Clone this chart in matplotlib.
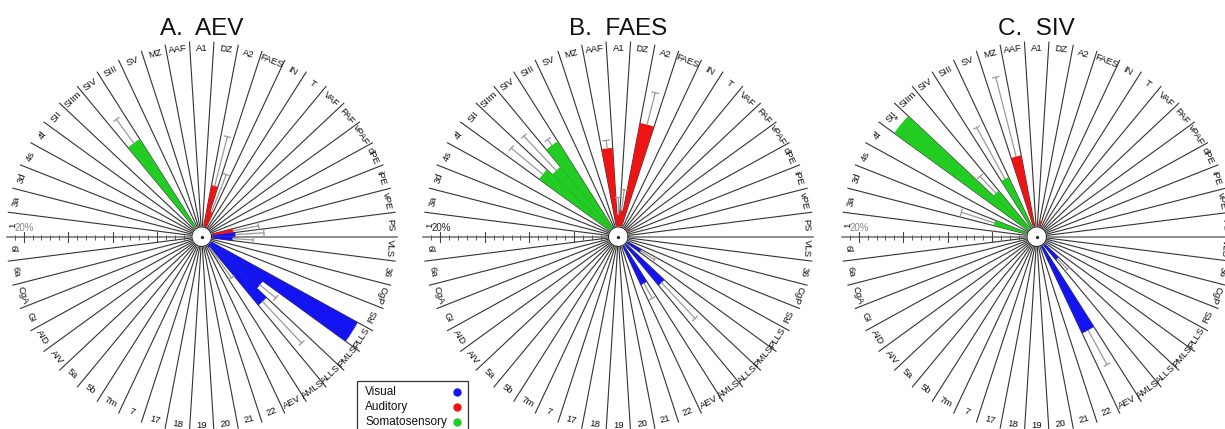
import numpy as np
import matplotlib
matplotlib.use('Agg')
import matplotlib.pyplot as plt
from matplotlib.lines import Line2D
from matplotlib.patches import Rectangle

plt.rcParams['font.family'] = ['Liberation Sans', 'DejaVu Sans']

# ---- data -------------------------------------------------------------
AREAS = ['1', '3a', '3d', '4s', '4f', 'SII', 'SIIm', 'SIV', 'SIII', 'SV',
         'MZ', 'AAF', 'A1', 'DZ', 'A2', 'FAES', 'IN', 'T', 'VAF', 'PAF',
         'vPAF', 'dPE', 'iPE', 'vPE', 'PS', 'VLS', '36', 'CgP', 'RS', 'PLLS',
         'PMLS', 'ALLS', 'AMLS', 'AEV', '22', '21', '20', '19', '18', '17',
         '7', '7m', '5b', '5a', 'AIV', 'AID', 'GI', 'CgA', '6a', '6l']

TITLES = ['A.  AEV', 'B.  FAES', 'C.  SIV']

# panel A (AEV injections)
AEV_AREAS = ['SIV', 'FAES', 'A2', 'vPE', 'PS', 'VLS', 'PLLS', 'PMLS', 'ALLS', 'AMLS']
AEV_VALUES = [13.0, 3.0, 5.9, 3.6, 3.8, 3.5, 20.0, 8.5, 10.0, 1.5]
AEV_SEM = [3.3, 4.5, 5.7, 2.9, 3.2, 2.3, 0.0, 2.3, 6.4, 4.2]
AEV_MOD = ['S', 'A', 'A', 'A', 'V', 'V', 'V', 'V', 'V', 'V']

# panel B (FAES injections)
FAES_AREAS = ['SII', 'SIIm', 'SIV', 'AAF', 'A1', 'DZ', 'A2', 'vPAF', 'PLLS', 'ALLS', 'AEV']
FAES_VALUES = [11.0, 10.2, 12.7, 10.0, 2.5, 3.0, 13.0, 1.5, 3.0, 7.1, 6.0]
FAES_SEM = [4.6, 5.3, 0.8, 0.9, 2.0, 2.3, 3.7, 0.0, 1.8, 5.5, 1.9]
FAES_MOD = ['S', 'S', 'S', 'A', 'A', 'A', 'A', 'A', 'V', 'V', 'V']

# panel C (SIV injections)
SIV_AREAS = ['3d', 'SII', 'SIIm', 'SIII', 'MZ', 'A2', 'ALLS', 'AEV']
SIV_VALUES = [5.0, 19.8, 6.7, 7.4, 9.3, 1.8, 3.4, 12.0]
SIV_SEM = [3.9, 0.0, 2.6, 6.6, 9.2, 0.0, 1.6, 4.4]
SIV_MOD = ['S', 'S', 'S', 'S', 'A', 'A', 'V', 'V']
SIV_SIGNIFICANT = ['SII']

PANELS = [
    (AEV_AREAS, AEV_VALUES, AEV_SEM, AEV_MOD, []),
    (FAES_AREAS, FAES_VALUES, FAES_SEM, FAES_MOD, []),
    (SIV_AREAS, SIV_VALUES, SIV_SEM, SIV_MOD, SIV_SIGNIFICANT),
]

LEGEND_LABELS = ['Visual', 'Auditory', 'Somatosensory']
LEGEND_KEYS = ['V', 'A', 'S']
COLORS = {'V': '#1414f2', 'A': '#ee1414', 'S': '#22cc22'}

# ---- layout -----------------------------------------------------------
W, H = 1225, 429
PX = 8.9                       # pixels per percent
RMAX = 23.0
CENTERS = [(201.7, 236.7), (618.3, 236.7), (1036.7, 236.7)]
SPOKE_R = 21.9
LABEL_R = 21.2

N = len(AREAS)
STEP = 2 * np.pi / N


def theta_of(name):
    return np.pi - STEP * (AREAS.index(name) + 0.5)


fig = plt.figure(figsize=(W / 100, H / 100), dpi=100)
fig.patch.set_facecolor('white')

for p, (cx, cy) in enumerate(CENTERS):
    half = RMAX * PX
    ax = fig.add_axes([(cx - half) / W, (H - cy - half) / H, 2 * half / W, 2 * half / H],
                      projection='polar')
    ax.set_ylim(0, RMAX)
    ax.set_axis_off()

    # spokes (sector boundaries)
    for k in range(N):
        b = np.pi - STEP * k
        if k in (0, N // 2):
            continue
        ax.plot([b, b], [0, SPOKE_R], color='#333333', lw=0.8, zorder=2)
    # horizontal axis
    ax.plot([np.pi, np.pi], [0, SPOKE_R], color='#7a7a7a', lw=1.2, zorder=2)
    ax.plot([0, 0], [0, SPOKE_R], color='#7a7a7a', lw=1.2, zorder=2)

    # scale ticks along the left horizontal axis
    minor = np.arange(1, 22)
    major = np.array([5, 10, 15, 20])
    ax.plot(np.full(minor.size, np.pi), minor, ls='none', marker='|', ms=3.6,
            mew=0.7, color='#555555', zorder=2)
    ax.plot(np.full(major.size, np.pi), major, ls='none', marker='|', ms=7.2,
            mew=0.8, color='#444444', zorder=2)
    ax.annotate('20%', xy=(np.pi, 20.0), xytext=(1, 9), textcoords='offset pixels',
                ha='center', va='center', fontsize=7,
                color='#222222' if p == 1 else '#8a8a8a')

    # area labels
    for name in AREAS:
        th = theta_of(name)
        deg = np.degrees(th)
        deg = (deg + 180) % 360 - 180
        if deg >= 0:
            rot = deg - 90
        elif deg > -22:
            rot = deg - 90
        else:
            rot = deg + 90
        ax.text(th, LABEL_R, name, rotation=rot, rotation_mode='anchor',
                ha='center', va='center', fontsize=6.8, color='#111111',
                clip_on=False, zorder=4)

    # bars
    areas, vals, sems, mods, sig = PANELS[p]
    thetas = [theta_of(a) for a in areas]
    ax.bar(thetas, vals, width=STEP, bottom=0,
           color=[COLORS[m] for m in mods], edgecolor='none', zorder=3)

    # error bars
    for th, v, s in zip(thetas, vals, sems):
        if s <= 0:
            continue
        top = v + s
        ax.plot([th, th], [v, top], color='#9a9a9a', lw=0.9, zorder=3.5)
        w = 0.35
        rc = np.hypot(top, w)
        dth = np.arctan2(w, top)
        ax.plot([th - dth, th + dth], [rc, rc], color='#9a9a9a', lw=0.9, zorder=3.5)

    for a in sig:
        i = areas.index(a)
        ax.text(theta_of(a), vals[i] + 0.7, '*', ha='center', va='center',
                fontsize=8, color='#222222', zorder=4)

    # centre disk
    tt = np.linspace(0, 2 * np.pi, 120)
    ax.fill(tt, np.full(tt.size, 1.1), color='white', zorder=5)
    ax.plot(tt, np.full(tt.size, 1.1), color='#222222', lw=0.8, zorder=5)
    ax.plot([0], [0], marker='o', ms=1.3, color='#222222', zorder=6)

    fig.text(cx / W, 1 - 35 / H, TITLES[p], ha='center', va='baseline',
             fontsize=17.5, color='#111111')

# legend box (text left, coloured dot right)
fig.add_artist(Rectangle((356.7 / W, -5 / H), (468 - 356.7) / W, (381 + 5 - 0) / H * 0 + (429 - 381 + 5) / H,
                         transform=fig.transFigure, facecolor='white',
                         edgecolor='#333333', lw=0.9, zorder=10))
ys = [392, 407, 421.5]
for lab, key, y in zip(LEGEND_LABELS, LEGEND_KEYS, ys):
    fig.text(365 / W, 1 - y / H, lab, ha='left', va='center', fontsize=8.5,
             color='#111111', zorder=11)
    fig.add_artist(Line2D([456.7 / W], [1 - y / H], ls='none', marker='o', ms=5,
                          color=COLORS[key], transform=fig.transFigure, zorder=11))

fig.savefig('out.png', dpi=100)
